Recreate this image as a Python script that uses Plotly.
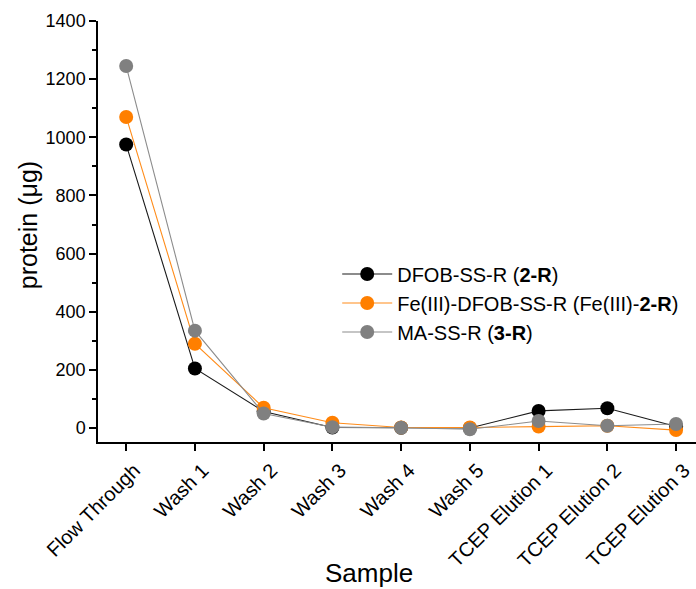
import plotly.graph_objects as go

samples = ["Flow Through", "Wash 1", "Wash 2", "Wash 3", "Wash 4", "Wash 5",
           "TCEP Elution 1", "TCEP Elution 2", "TCEP Elution 3"]

dfob = [975, 205, 57, 2, 1, 0, 59, 68, 5]
fe_dfob = [1070, 290, 70, 18, 2, 2, 5, 8, -7]
ma = [1245, 335, 50, 3, 1, -4, 24, 8, 14]

series = [
    ("DFOB-SS-R (<b>2-R</b>)", dfob, "#1a1a1a", "#000000"),
    ("Fe(III)-DFOB-SS-R (Fe(III)-<b>2-R</b>)", fe_dfob, "#ff8c1a", "#ff7f00"),
    ("MA-SS-R (<b>3-R</b>)", ma, "#8c8c8c", "#808080"),
]

x_idx = list(range(len(samples)))

fig = go.Figure()
for name, vals, lc, mc in series:
    fig.add_trace(go.Scatter(
        x=x_idx, y=vals, name=name, mode="lines+markers",
        line=dict(color=lc, width=1.1),
        marker=dict(color=mc, size=14, line=dict(width=0)),
    ))

font = "Liberation Sans, Arial, sans-serif"
fig.update_layout(
    width=696, height=589,
    margin=dict(l=98, r=0, t=21, b=147),
    paper_bgcolor="white", plot_bgcolor="white",
    font=dict(family=font, size=18, color="black"),
    showlegend=True,
    legend=dict(x=0.40, y=0.33, xanchor="left", yanchor="middle",
                bgcolor="rgba(0,0,0,0)", font=dict(size=20),
                itemwidth=50, tracegroupgap=0),
    xaxis=dict(
        range=[-0.41, 8.29], tickmode="array", tickvals=x_idx, ticktext=samples,
        tickangle=-45, ticks="outside", ticklen=7, tickwidth=1.5, tickcolor="black",
        showline=True, linecolor="black", linewidth=1.5, showgrid=False, zeroline=False,
        tickfont=dict(size=20), ticklabelshift=8,
    ),
    yaxis=dict(
        range=[-48, 1400], tickmode="linear", tick0=0, dtick=200,
        ticks="outside", ticklen=7, tickwidth=1.5, tickcolor="black",
        minor=dict(dtick=100, ticks="outside", ticklen=4, tickwidth=1.5, tickcolor="black"),
        showline=True, linecolor="black", linewidth=1.5, showgrid=False, zeroline=False,
        tickfont=dict(size=18),
    ),
    annotations=[
        dict(text="Sample", xref="paper", yref="paper", x=0.453, y=-0.31,
             xanchor="center", yanchor="middle", showarrow=False,
             font=dict(size=26)),
        dict(text="protein (μg)", xref="paper", yref="paper", x=-0.117, y=0.515,
             xanchor="center", yanchor="middle", showarrow=False, textangle=-90,
             font=dict(size=25)),
    ],
)

fig.write_html("out.html")
